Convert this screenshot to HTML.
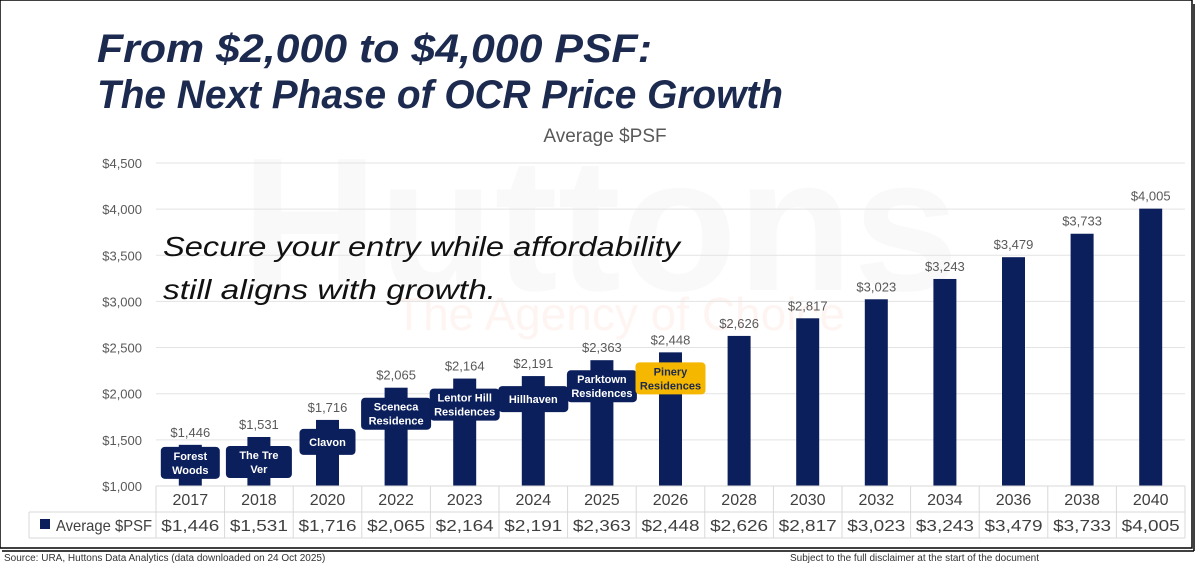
<!DOCTYPE html>
<html><head><meta charset="utf-8"><style>
body{margin:0;background:#fff;width:1198px;height:564px;overflow:hidden;font-family:"Liberation Sans",sans-serif;}
</style></head><body>
<svg width="1198" height="564" xmlns="http://www.w3.org/2000/svg">
<rect x="0" y="0" width="1192" height="548" fill="#fff" stroke="#000" stroke-width="1.5"/>
<line x1="2" y1="551" x2="1194" y2="551" stroke="#000" stroke-width="1.5"/>
<line x1="1194" y1="4" x2="1194" y2="551" stroke="#000" stroke-width="1.5"/>
<text x="600" y="290" font-size="190" font-weight="bold" fill="#f9f9f9" text-anchor="middle">Huttons</text>
<text x="620" y="330" font-size="46" fill="#fef5f2" text-anchor="middle">The Agency of Choice</text>
<text x="97" y="62" font-size="40" font-weight="bold" font-style="italic" fill="#1b2a4e" textLength="555" lengthAdjust="spacingAndGlyphs">From $2,000 to $4,000 PSF:</text>
<text x="97" y="108" font-size="40" font-weight="bold" font-style="italic" fill="#1b2a4e" textLength="686" lengthAdjust="spacingAndGlyphs">The Next Phase of OCR Price Growth</text>
<text x="605" y="142" font-size="19" fill="#595959" text-anchor="middle">Average $PSF</text>
<g id="grid"></g><g id="bars"></g><g id="labels"></g><g id="table"></g>
<text x="163" y="256" font-size="28" font-style="italic" fill="#111" textLength="517" lengthAdjust="spacingAndGlyphs">Secure your entry while affordability</text>
<text x="163" y="299" font-size="28" font-style="italic" fill="#111" textLength="333" lengthAdjust="spacingAndGlyphs">still aligns with growth.</text>
<text x="4" y="561" font-size="10" fill="#333">Source: URA, Huttons Data Analytics (data downloaded on 24 Oct 2025)</text>
<text x="790" y="561" font-size="10" fill="#333">Subject to the full disclaimer at the start of the document</text>
</svg>
<script>
const years=["2017","2018","2020","2022","2023","2024","2025","2026","2028","2030","2032","2034","2036","2038","2040"];
const values=[1446,1531,1716,2065,2164,2191,2363,2448,2626,2817,3023,3243,3479,3733,4005];
const projects=[["Forest","Woods"],["The Tre","Ver"],["Clavon"],["Sceneca","Residence"],["Lentor Hill","Residences"],["Hillhaven"],["Parktown","Residences"],["Pinery","Residences"]];
const ticks=[1000,1500,2000,2500,3000,3500,4000,4500];
const NS="http://www.w3.org/2000/svg";
const x0=156,colW=68.6,yBase=486,pxPer=46.15/500;
const y=v=>yBase-(v-1000)*pxPer;
const cx=i=>x0+colW*i+colW/2;
function mk(tag,a,parent,txt){const e=document.createElementNS(NS,tag);for(const k in a)e.setAttribute(k,a[k]);if(txt!==undefined)e.textContent=txt;parent.appendChild(e);return e;}
const g=document.getElementById('grid'),b=document.getElementById('bars'),l=document.getElementById('labels'),t=document.getElementById('table');
ticks.forEach(v=>{
 const ln=mk('line',{x1:x0,x2:x0+colW*years.length,y1:y(v),y2:y(v),stroke:'#e3e3e3'},g);
 
 const tx=mk('text',{x:142,y:y(v)+5,'font-size':13,fill:'#595959','text-anchor':'end'},g,'$'+v.toLocaleString('en-US'));
 
});
values.forEach((v,i)=>{
 const r=mk('rect',{x:cx(i)-11.5,y:y(v),width:23,height:yBase-y(v),fill:'#0b1f5c'},b);
 
 const tx=mk('text',{x:cx(i),y:y(v)-8,'font-size':13,fill:'#595959','text-anchor':'middle'},b,'$'+v.toLocaleString('en-US'));
 
});
projects.forEach((p,i)=>{
 const yl=i===7, top=y(values[i])+(i===0?2:i<3?9:10), w=i<3?(i==0?59:i==1?66:56):70, h=p.length>1?32:26;
 const r=mk('rect',{x:cx(i)-w/2,y:top,width:w,height:h,rx:4,fill:yl?'#f5b700':'#0b1f5c'},l);
 
 p.forEach((s,k)=>{
  const tx=mk('text',{x:cx(i),y:top+(p.length>1?13+k*14:17),'font-size':11,'font-weight':'bold',fill:yl?'#1b2a4e':'#fff','text-anchor':'middle'},l,s);
  
 });
});
const tw=x0+colW*years.length;
[[x0,486,tw,486],[29,512,tw,512],[29,538,tw,538],[29,512,29,538]].forEach(c=>{const ln=mk('line',{x1:c[0],y1:c[1],x2:c[2],y2:c[3],stroke:'#d9d9d9'},t);});
for(let i=0;i<=years.length;i++){const ln=mk('line',{x1:x0+colW*i,y1:486,x2:x0+colW*i,y2:538,stroke:'#d9d9d9'},t);}
years.forEach((yr,i)=>{
 const a=mk('text',{x:cx(i),y:505,'font-size':16,fill:'#404040','text-anchor':'middle'},t,yr);
 
 const c=mk('text',{x:cx(i),y:531,'font-size':16,fill:'#404040','text-anchor':'middle',textLength:58,lengthAdjust:'spacingAndGlyphs'},t,'$'+values[i].toLocaleString('en-US'));
 
});
const sw=mk('rect',{x:40,y:519,width:10,height:10,fill:'#0b1f5c'},t);

const lg=mk('text',{x:56,y:531,'font-size':16,fill:'#404040',textLength:96,lengthAdjust:'spacingAndGlyphs'},t,'Average $PSF');

</script>
</body></html>
